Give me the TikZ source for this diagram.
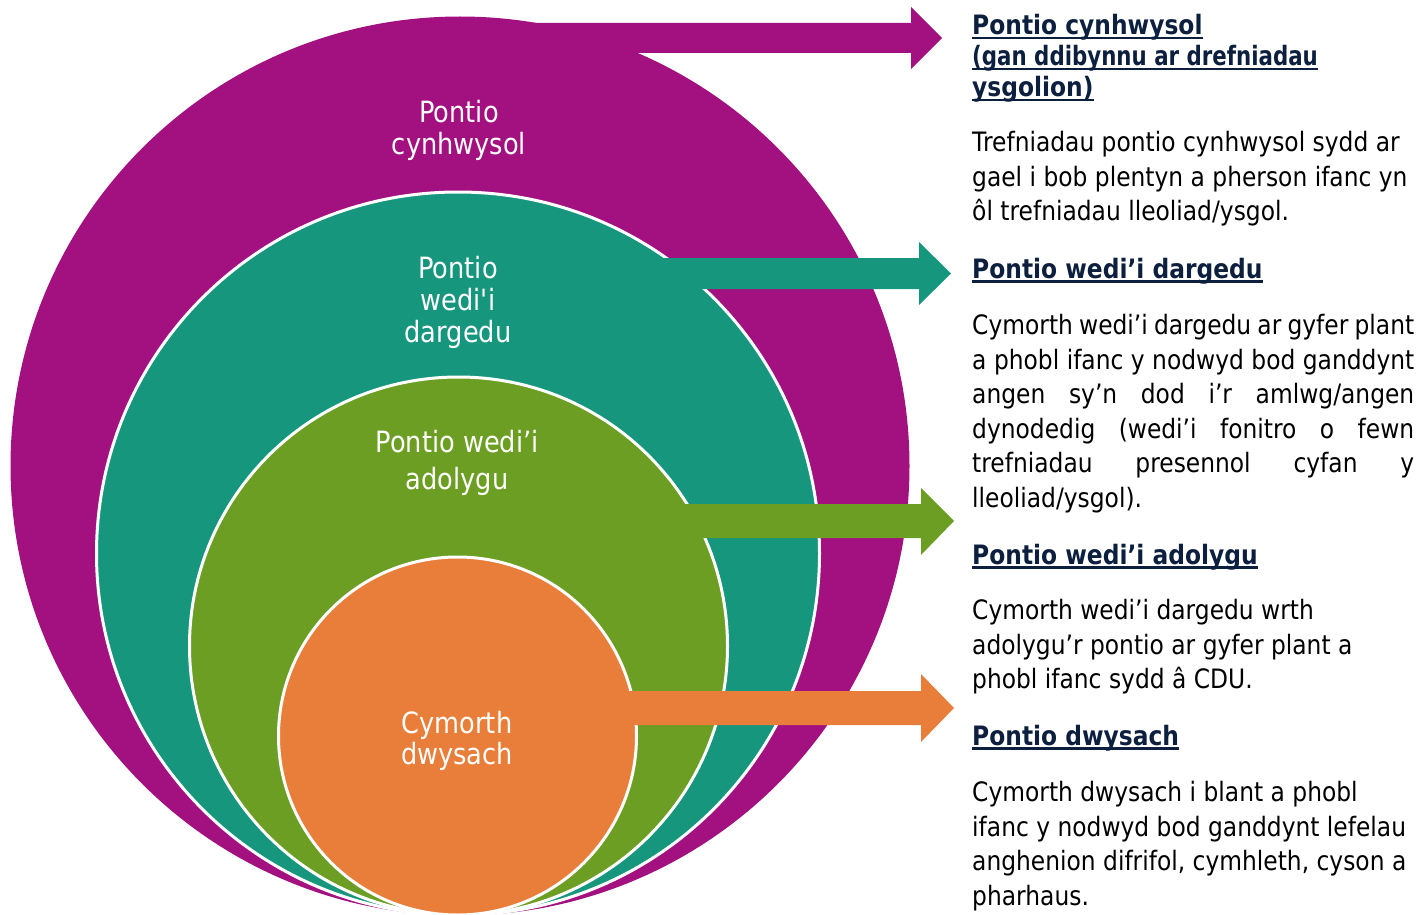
\documentclass[tikz,border=0pt]{standalone}
\usepackage{fontspec}
\usepackage{graphicx}
\newfontfamily\bodyfont{DejaVu Sans}[FakeStretch=0.875]
\definecolor{cmag}{HTML}{A3107F}
\definecolor{cteal}{HTML}{16967C}
\definecolor{cgreen}{HTML}{6B9E22}
\definecolor{corange}{HTML}{E87E39}
\definecolor{navy}{HTML}{0C1F3E}
\begin{document}
\begin{tikzpicture}[x=1pt,y=-1pt,
  txt/.style={inner sep=0pt, anchor=base west, text=black,
    font=\bodyfont\fontsize{26.7}{32}\selectfont},
  head/.style={inner sep=0pt, anchor=base west, text=navy,
    font=\bodyfont\bfseries\fontsize{26.7}{32}\selectfont},
  ul/.style={draw=navy, line width=2.6pt},
  lbl/.style={inner sep=0pt, anchor=base, text=white,
    font=\bodyfont\fontsize{29.3}{32}\selectfont},
  disc/.style={circle, inner sep=0pt, outer sep=0pt},
  ring/.style={draw=white, line width=3pt}]
\useasboundingbox (0,0) rectangle (1427,915);

% nested circles
\node[disc, fill=cmag, minimum size=899pt] (magC) at (460,466) {};
\node[disc, fill=cteal, ring, minimum size=723pt] (tealC) at (458,553.5) {};
\node[disc, fill=cgreen, ring, minimum size=538pt] (greenC) at (458.5,646) {};
\node[disc, fill=corange, ring, minimum size=358pt] (orangeC) at (457.5,736) {};

% block arrows
\fill[cmag] (460,23) -- (911,23) -- (911,7) -- (942,38) -- (911,69) -- (911,53) -- (460,53) -- cycle;
\fill[cteal] (458,258) -- (919,258) -- (919,242) -- (951,273.5) -- (919,305) -- (919,289) -- (458,289) -- cycle;
\fill[cgreen] (458,504) -- (921,504) -- (921,488) -- (954,521) -- (921,555) -- (921,538) -- (458,538) -- cycle;
\fill[corange] (458,691) -- (921,691) -- (921,674) -- (954,708) -- (921,742) -- (921,725) -- (458,725) -- cycle;

% circle labels
\node[lbl] (l1a) at (459,123) {Pontio};
\node[lbl] (l1b) at (459,155) {cynhwysol};
\node[lbl] (l2a) at (458,278) {Pontio};
\node[lbl] (l2b) at (458,310) {wedi'i};
\node[lbl] (l2c) at (458,342) {dargedu};
\node[lbl] (l3a) at (457,452) {Pontio wedi’i};
\node[lbl] (l3b) at (457,489) {adolygu};
\node[lbl] (l4a) at (457,733) {Cymorth};
\node[lbl] (l4b) at (457,764) {dwysach};

% right column: block 1
\node[head] (h1a) at (972,34.5) {Pontio cynhwysol};
\node[head] (h1b) at (972,65.5) {\scalebox{0.913}[1]{(gan ddibynnu ar drefniadau}};
\node[head] (h1c) at (972,96.5) {ysgolion)};
\draw[ul] ([yshift=-3.5pt]h1a.base west) -- ([yshift=-3.5pt]h1a.base east);
\draw[ul] ([yshift=-3.5pt]h1b.base west) -- ([yshift=-3.5pt]h1b.base east);
\draw[ul] ([yshift=-3.5pt]h1c.base west) -- ([yshift=-3.5pt]h1c.base east);
\node[txt] (t1a) at (972,151.5) {Trefniadau pontio cynhwysol sydd ar};
\node[txt] (t1b) at (972,186) {gael i bob plentyn a pherson ifanc yn};
\node[txt] (t1c) at (972,220.5) {ôl trefniadau lleoliad/ysgol.};

% block 2
\node[head] (h2) at (972,278) {Pontio wedi’i dargedu};
\draw[ul] ([yshift=-3.5pt]h2.base west) -- ([yshift=-3.5pt]h2.base east);
\node[txt] (t2a) at (972,334.5) {\makebox[442pt][s]{Cymorth wedi’i dargedu ar gyfer plant}};
\node[txt] (t2b) at (972,369) {\makebox[442pt][s]{a phobl ifanc y nodwyd bod ganddynt}};
\node[txt] (t2c) at (972,403.5) {\makebox[442pt][s]{angen sy’n dod i’r amlwg/angen}};
\node[txt] (t2d) at (972,438) {\makebox[442pt][s]{dynodedig (wedi’i fonitro o fewn}};
\node[txt] (t2e) at (972,472.5) {\makebox[442pt][s]{trefniadau presennol cyfan y}};
\node[txt] (t2f) at (972,507) {lleoliad/ysgol).};

% block 3
\node[head] (h3) at (972,564) {Pontio wedi’i adolygu};
\draw[ul] ([yshift=-3.5pt]h3.base west) -- ([yshift=-3.5pt]h3.base east);
\node[txt] (t3a) at (972,619.5) {Cymorth wedi’i dargedu wrth};
\node[txt] (t3b) at (972,654) {adolygu’r pontio ar gyfer plant a};
\node[txt] (t3c) at (972,688.5) {phobl ifanc sydd â CDU.};

% block 4
\node[head] (h4) at (972,745) {Pontio dwysach};
\draw[ul] ([yshift=-3.5pt]h4.base west) -- ([yshift=-3.5pt]h4.base east);
\node[txt] (t4a) at (972,801.5) {Cymorth dwysach i blant a phobl};
\node[txt] (t4b) at (972,836) {ifanc y nodwyd bod ganddynt lefelau};
\node[txt] (t4c) at (972,870.5) {anghenion difrifol, cymhleth, cyson a};
\node[txt] (t4d) at (972,905) {pharhaus.};
\end{tikzpicture}
\end{document}
